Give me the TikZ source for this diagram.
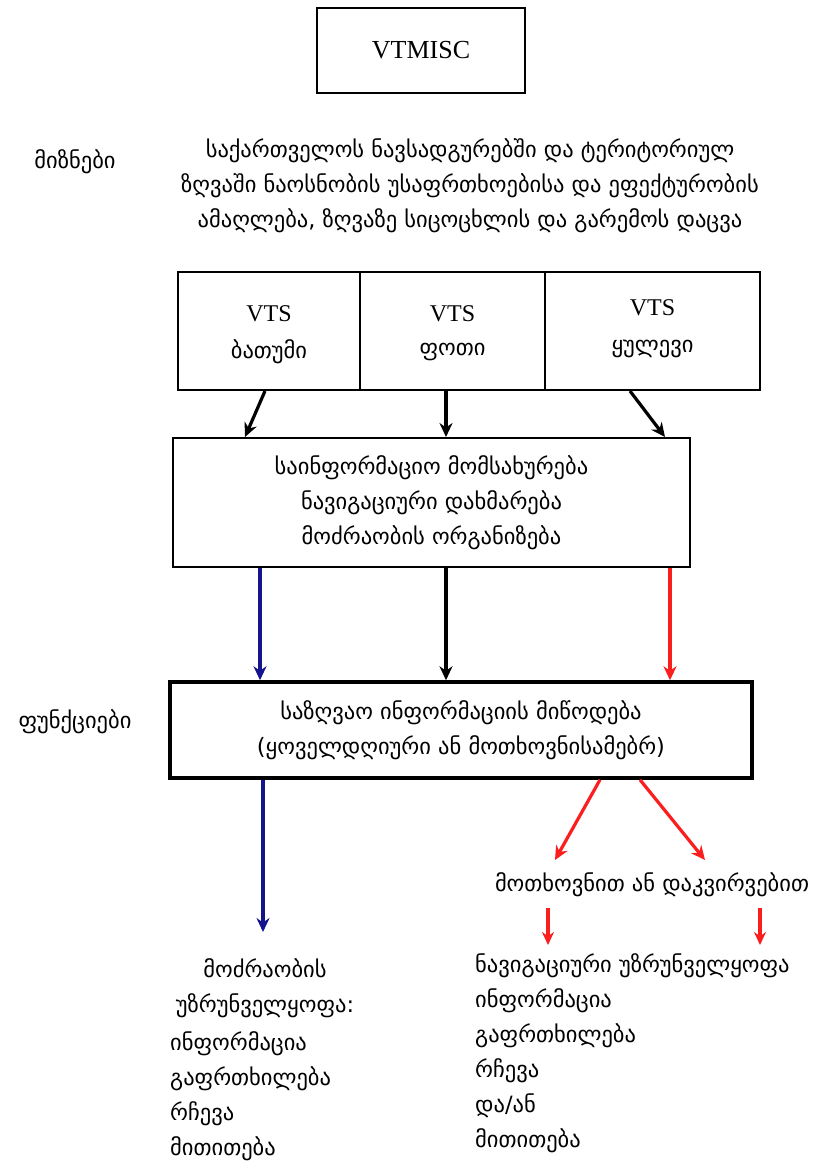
\documentclass[tikz,border=0pt]{standalone}
\usepackage{fontspec}
\setmainfont{DejaVu Sans}
\newfontfamily\latn{Liberation Serif}
\usetikzlibrary{arrows.meta}
\definecolor{navy}{RGB}{20,20,140}
\definecolor{redarr}{RGB}{250,30,30}
\begin{document}
\begin{tikzpicture}[x=1pt,y=-1pt,
  geo/.style={font=\fontsize{22.5}{35}\selectfont, inner sep=0pt},
  box/.style={draw=black, line width=2pt, fill=white, inner sep=0pt},
  arr/.style={line width=3.2pt, -{Stealth[length=14pt,width=13pt]}},
  sarr/.style={line width=3.2pt, -{Stealth[length=13pt,width=12pt]}},
  lat/.style={font=\latn\fontsize{24}{38}\selectfont}
]
\useasboundingbox (0,0) rectangle (832,1172);
% top box
\node[box, minimum width=208, minimum height=85, font=\latn\fontsize{26}{38}\selectfont] (top) at (421,50.5) {VTMISC};
% goals
\node[geo] (goallbl) at (75,162) {მიზნები};
\node[geo, align=center] (goal) at (470,186) {საქართველოს ნავსადგურებში და ტერიტორიულ\\ზღვაში ნაოსნობის უსაფრთხოებისა და ეფექტურობის\\ამაღლება, ზღვაზე სიცოცხლის და გარემოს დაცვა};
% VTS boxes
\node[box, minimum width=182, minimum height=118] (b1) at (269,331) {};
\node[box, minimum width=185, minimum height=118] (b2) at (452.5,331) {};
\node[box, minimum width=215, minimum height=118] (b3) at (652.5,331) {};
\node[lat] (b1t) at (269,314) {VTS};
\node[geo] (b1g) at (269,352) {ბათუმი};
\node[lat] (b2t) at (452.5,314) {VTS};
\node[geo] (b2g) at (452.5,352) {ფოთი};
\node[lat] (b3t) at (652.5,308) {VTS};
\node[geo] (b3g) at (652.5,349) {ყულევი};
% middle box
\node[box, minimum width=517, minimum height=129, geo, align=center] (mid) at (431.5,502.5) {საინფორმაციო მომსახურება\\ნავიგაციური დახმარება\\მოძრაობის ორგანიზება};
\draw[arr] ([xshift=-4pt]b1.south) -- ([xshift=-186.5pt]mid.north);
\draw[arr] ([xshift=-6.5pt]b2.south) -- ([xshift=14.5pt]mid.north);
\draw[arr] ([xshift=-22.5pt]b3.south) -- ([xshift=233.5pt]mid.north);
% functions
\node[geo] (funlbl) at (75,722) {ფუნქციები};
\node[draw=black, line width=3.5pt, fill=white, inner sep=0pt, minimum width=582, minimum height=96, geo, align=center] (fun) at (461,730) {საზღვაო ინფორმაციის მიწოდება\\(ყოველდღიური ან მოთხოვნისამებრ)};
\draw[arr, navy] ([xshift=-171.5pt]mid.south) -- ([xshift=-171.5pt]mid.south |- fun.north);
\draw[arr, black] ([xshift=14.5pt]mid.south) -- ([xshift=14.5pt]mid.south |- fun.north);
\draw[arr, redarr] ([xshift=238.5pt]mid.south) -- ([xshift=238.5pt]mid.south |- fun.north);
% left branch
\node[geo, align=center, anchor=north] (lhead) at (265,958) {მოძრაობის\\უზრუნველყოფა:};
\node[geo, align=left, anchor=north west] (llist) at (170,1031) {ინფორმაცია\\გაფრთხილება\\რჩევა\\მითითება};
\draw[arr, navy] ([xshift=-198pt]fun.south) -- ([xshift=-198pt]fun.south |- 0,932);
% right branch
\node[geo] (req) at (652,885) {მოთხოვნით ან დაკვირვებით};
\draw[arr, redarr] ([xshift=139pt]fun.south) -- (555,860);
\draw[arr, redarr] ([xshift=179pt]fun.south) -- (705,860);
\node[geo, align=left, anchor=north west] (rlist) at (475,953) {ნავიგაციური უზრუნველყოფა\\ინფორმაცია\\გაფრთხილება\\რჩევა\\და/ან\\მითითება};
\draw[sarr, redarr] ([xshift=-104pt,yshift=-23pt]req.center) -- ([xshift=-104pt,yshift=-60pt]req.center);
\draw[sarr, redarr] ([xshift=108pt,yshift=-23pt]req.center) -- ([xshift=108pt,yshift=-60pt]req.center);
\end{tikzpicture}
\end{document}
